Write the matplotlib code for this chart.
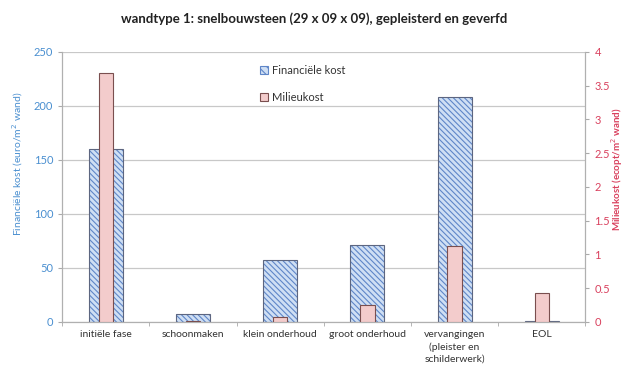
import numpy as np
import matplotlib.pyplot as plt

plt.rcParams['font.family'] = ['Lato', 'DejaVu Sans']
plt.rcParams['hatch.linewidth'] = 0.8

categories = ['initiële fase', 'schoonmaken', 'klein onderhoud', 'groot onderhoud',
              'vervangingen\n(pleister en\nschilderwerk)', 'EOL']
financieel = [160, 7, 57, 71, 208, 1]          # euro/m² wand
milieu = [3.69, 0.02, 0.07, 0.25, 1.13, 0.43]  # milieukost

blue = '#4a8fd0'
red = '#d9415e'

fig = plt.figure(figsize=(6.28, 3.76), dpi=100)
ax = fig.add_axes([0.099, 0.144, 0.833, 0.718])
ax2 = ax.twinx()

x = np.arange(len(categories))
# hatched fill first, then a separate grey outline
ax.bar(x, financieel, width=0.39, color='#cfdff4', edgecolor='#5f86c8',
       linewidth=0, hatch='\\\\\\\\\\\\', zorder=2)
ax.bar(x, financieel, width=0.39, fill=False, edgecolor='#5d6680',
       linewidth=0.8, zorder=2.1)
fin_handle = plt.Rectangle((0, 0), 1, 1, facecolor='#cfdff4', edgecolor='#5f86c8',
                           hatch='\\\\\\\\', linewidth=0.8)
ax2.bar(x, milieu, width=0.165, color='#f3cccc', edgecolor='#7a4f4f',
        linewidth=0.8, label='Milieukost', zorder=3)

ax.set_xlim(-0.5, len(categories) - 0.5)
ax.set_ylim(0, 250)
ax.set_yticks(np.arange(0, 251, 50))
ax2.set_ylim(0, 4)
ax2.set_yticks(np.arange(0, 4.01, 0.5))
ax2.set_yticklabels(['0', '0.5', '1', '1.5', '2', '2.5', '3', '3.5', '4'])

ax.yaxis.grid(True, color='#c8c8c8', linewidth=0.9, zorder=0)
ax.set_axisbelow(True)

ax.set_xticks(x)
ax.set_xticklabels(categories, fontsize=7.5, color='#333333', linespacing=1.4)
ax.set_xticks(np.arange(-0.5, len(categories), 1), minor=True)
ax.tick_params(axis='x', which='major', length=0, pad=6)
ax.tick_params(axis='x', which='minor', length=3, color='#aaaaaa')
ax.tick_params(axis='y', length=3, color='#aaaaaa', labelsize=8, labelcolor=blue)
ax2.tick_params(axis='y', length=3, color='#aaaaaa', labelsize=8, labelcolor=red)

for a in (ax, ax2):
    a.spines['top'].set_visible(False)
    for s in ('left', 'right', 'bottom'):
        a.spines[s].set_color('#b0b0b0')

ax.set_ylabel('Financiële kost (euro/m$^2$ wand)', color=blue, fontsize=7.5)
ax.yaxis.set_label_coords(-0.072, 0.585)
fig.text(0.983, 0.55, 'Milieukost (ecopt/m$^2$ wand)', color=red, fontsize=7,
         rotation=90, ha='center', va='center', fontweight='bold')

fig.suptitle('wandtype 1: snelbouwsteen (29 x 09 x 09), gepleisterd en geverfd',
             fontsize=9.5, fontweight='bold', color='#222222', y=0.968)

h2, l2 = ax2.get_legend_handles_labels()
ax2.legend([fin_handle] + h2, ['Financiële kost'] + l2, loc='upper left',
           bbox_to_anchor=(0.36, 0.99), frameon=False, fontsize=8,
           handlelength=0.7, handleheight=0.7, handletextpad=0.3,
           labelspacing=1.5, labelcolor='#333333')

fig.savefig('out.png', dpi=100)
